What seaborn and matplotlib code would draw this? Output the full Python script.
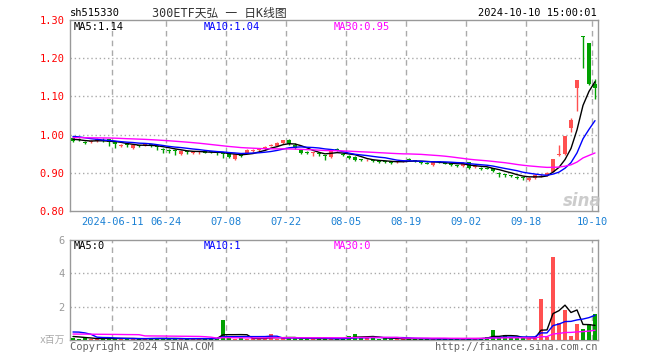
import numpy as np
import pandas as pd
import matplotlib
matplotlib.use('Agg')
import matplotlib.pyplot as plt
import seaborn as sns

# -----------------------------
# DATA
# -----------------------------

opens = [0.992, 0.989, 0.981, 0.980, 0.983, 0.984, 0.988, 0.980, 0.970, 0.975,
         0.965, 0.972, 0.973, 0.975, 0.969, 0.962, 0.958, 0.960, 0.948, 0.955,
         0.953, 0.954, 0.957, 0.956, 0.953, 0.952, 0.951, 0.936, 0.946, 0.953,
         0.959, 0.961, 0.962, 0.972, 0.971, 0.977, 0.986, 0.973, 0.960, 0.955,
         0.952, 0.950, 0.945, 0.942, 0.961, 0.948, 0.944, 0.942, 0.935, 0.933,
         0.932, 0.930, 0.930, 0.928, 0.928, 0.930, 0.936, 0.932, 0.927, 0.926,
         0.920, 0.930, 0.926, 0.926, 0.919, 0.918, 0.927, 0.915, 0.913, 0.913,
         0.912, 0.898, 0.895, 0.893, 0.889, 0.887, 0.881, 0.886, 0.891, 0.894,
         0.903, 0.948, 0.949, 1.018, 1.121, 1.258, 1.241, 1.133]

closes = [0.983, 0.986, 0.980, 0.982, 0.988, 0.983, 0.981, 0.976, 0.971, 0.972,
          0.973, 0.970, 0.974, 0.970, 0.967, 0.961, 0.957, 0.958, 0.958, 0.954,
          0.954, 0.955, 0.953, 0.954, 0.952, 0.951, 0.941, 0.948, 0.943, 0.960,
          0.960, 0.962, 0.968, 0.973, 0.979, 0.986, 0.975, 0.964, 0.951, 0.951,
          0.953, 0.949, 0.944, 0.958, 0.960, 0.947, 0.938, 0.934, 0.934, 0.934,
          0.931, 0.929, 0.929, 0.927, 0.929, 0.931, 0.935, 0.931, 0.926, 0.925,
          0.927, 0.929, 0.925, 0.920, 0.918, 0.926, 0.913, 0.916, 0.912, 0.912,
          0.905, 0.897, 0.894, 0.892, 0.888, 0.886, 0.887, 0.894, 0.892, 0.900,
          0.936, 0.949, 0.996, 1.038, 1.143, 1.256, 1.133, 1.122]

highs = [0.995, 0.991, 0.984, 0.985, 0.990, 0.990, 0.989, 0.981, 0.975, 0.976,
         0.975, 0.974, 0.977, 0.976, 0.971, 0.965, 0.961, 0.962, 0.959, 0.957,
         0.957, 0.958, 0.958, 0.957, 0.955, 0.954, 0.952, 0.950, 0.948, 0.961,
         0.963, 0.966, 0.969, 0.976, 0.980, 0.987, 0.989, 0.977, 0.961, 0.957,
         0.955, 0.952, 0.947, 0.960, 0.964, 0.952, 0.946, 0.943, 0.937, 0.937,
         0.934, 0.932, 0.932, 0.930, 0.932, 0.934, 0.939, 0.934, 0.929, 0.928,
         0.929, 0.932, 0.928, 0.927, 0.921, 0.928, 0.928, 0.919, 0.915, 0.915,
         0.913, 0.901, 0.898, 0.895, 0.892, 0.889, 0.889, 0.896, 0.896, 0.902,
         0.937, 0.973, 0.997, 1.044, 1.143, 1.258, 1.241, 1.146]

lows = [0.980, 0.982, 0.975, 0.977, 0.981, 0.980, 0.971, 0.966, 0.967, 0.968,
        0.963, 0.967, 0.970, 0.968, 0.960, 0.953, 0.953, 0.947, 0.946, 0.950,
        0.949, 0.950, 0.951, 0.951, 0.946, 0.938, 0.939, 0.934, 0.941, 0.951,
        0.955, 0.958, 0.960, 0.969, 0.969, 0.975, 0.974, 0.962, 0.950, 0.949,
        0.945, 0.944, 0.934, 0.940, 0.957, 0.943, 0.936, 0.930, 0.930, 0.930,
        0.928, 0.926, 0.926, 0.924, 0.925, 0.927, 0.932, 0.928, 0.923, 0.922,
        0.918, 0.926, 0.922, 0.918, 0.915, 0.916, 0.911, 0.912, 0.908, 0.909,
        0.903, 0.890, 0.890, 0.888, 0.885, 0.882, 0.878, 0.884, 0.888, 0.892,
        0.902, 0.945, 0.947, 1.008, 1.063, 1.175, 1.130, 1.093]

# volume, millions
vols = [0.10, 0.08, 0.12, 0.06, 0.08, 0.10, 0.14, 0.08, 0.06, 0.10,
        0.08, 0.06, 0.08, 0.10, 0.12, 0.10, 0.06, 0.08, 0.06, 0.08,
        0.10, 0.06, 0.08, 0.10, 0.12, 1.20, 0.10, 0.08, 0.12, 0.08,
        0.10, 0.06, 0.10, 0.36, 0.08, 0.10, 0.12, 0.10, 0.08, 0.10,
        0.06, 0.08, 0.10, 0.08, 0.06, 0.10, 0.24, 0.36, 0.15, 0.12,
        0.18, 0.08, 0.10, 0.06, 0.08, 0.06, 0.08, 0.10, 0.06, 0.08,
        0.06, 0.08, 0.06, 0.10, 0.08, 0.06, 0.10, 0.06, 0.12, 0.20,
        0.60, 0.10, 0.30, 0.12, 0.10, 0.12, 0.10, 0.15, 2.46, 0.20,
        5.00, 1.00, 1.80, 0.25, 0.96, 0.65, 0.96, 1.56]

# days before the window, only used to warm up the moving averages
prior_close = [0.985, 0.988, 0.990, 0.992, 0.989, 0.986, 0.988, 0.991, 0.993, 0.990,
               0.988, 0.992, 0.995, 0.993, 0.990, 0.989, 0.992, 0.994, 0.991, 0.994,
               0.998, 1.003, 1.006, 1.004, 1.002, 0.993, 0.990, 0.988, 0.985]
prior_vol = [0.20, 0.15, 0.25, 0.15, 0.20, 0.25, 0.15, 0.20, 0.25, 0.15,
             0.20, 2.30, 0.15, 0.20, 0.15, 0.25, 0.15, 0.20, 0.15, 0.25,
             0.15, 0.60, 0.90, 1.80, 0.30, 0.20, 0.30, 0.20, 0.25]

date_pos = [7, 16, 26, 36, 46, 56, 66, 76, 87]
date_labels = ['2024-06-11', '06-24', '07-08', '07-22', '08-05',
               '08-19', '09-02', '09-18', '10-10']
price_ticks = [0.80, 0.90, 1.00, 1.10, 1.20, 1.30]
vol_ticks = [2, 4, 6]

# -----------------------------
# PREP
# -----------------------------

opens = np.array(opens)
closes = np.array(closes)
highs = np.array(highs)
lows = np.array(lows)
vols = np.array(vols)
x = np.arange(len(closes))
n0 = len(prior_close)

all_close = pd.Series(prior_close + list(closes))
all_vol = pd.Series(prior_vol + list(vols))
ma = {w: all_close.rolling(w).mean().iloc[n0:].to_numpy() for w in (5, 10, 30)}
vma = {w: all_vol.rolling(w).mean().iloc[n0:].to_numpy() for w in (5, 10, 30)}

RED = '#ff5050'
GREEN = '#00a000'
GRID = '#aaaaaa'
SPINE = '#999999'
MA_COL = {5: 'black', 10: '#0000ff', 30: '#ff00ff'}
colors = np.where(closes >= opens, RED, GREEN)

# -----------------------------
# FIGURE
# -----------------------------

sns.set_style('white')
plt.rcParams['font.family'] = ['DejaVu Sans Mono', 'Noto Sans CJK SC']

W, H = 660, 360
fig = plt.figure(figsize=(6.6, 3.6), dpi=100)


def box(l, t, r, b):
    return [l / W, 1 - b / H, (r - l) / W, (b - t) / H]


ax = fig.add_axes(box(70, 20, 598, 211))
axv = fig.add_axes(box(70, 240, 598, 340))

# candles
ax.vlines(x, lows, highs, colors=colors, lw=1, zorder=3)
body = np.abs(closes - opens)
bh = np.maximum(body, 0.0026)
bb = np.minimum(opens, closes) - (bh - body) / 2
ax.bar(x, bh, bottom=bb, width=0.8, color=colors, linewidth=0, zorder=3)

for w in (5, 10, 30):
    sns.lineplot(x=x, y=ma[w], ax=ax, color=MA_COL[w], lw=1, zorder=4)

# volume
axv.bar(x, vols, width=0.8, color=colors, linewidth=0, zorder=3)
for w in (5, 10, 30):
    sns.lineplot(x=x, y=vma[w], ax=axv, color=MA_COL[w], lw=1, zorder=4)

# axes styling
for a in (ax, axv):
    a.set_xlim(-0.5, len(x) - 0.5)
    for gx in date_pos:
        a.axvline(gx - 0.5, color=GRID, ls=(0, (4, 3)), lw=1, zorder=1)
    for s in a.spines.values():
        s.set_color(SPINE)
        s.set_linewidth(1)
    a.set_xlabel('')
    a.set_ylabel('')

ax.set_ylim(0.80, 1.30)
for gy in price_ticks[1:-1]:
    ax.axhline(gy, color=GRID, ls=(0, (1, 2)), lw=1, zorder=1)
ax.set_yticks(price_ticks)
ax.set_yticklabels(['%.2f' % t for t in price_ticks])
ax.tick_params(axis='y', length=0, pad=4, labelcolor='#ff0000', labelsize=7.5)
ax.set_xticks([p - 0.5 for p in date_pos])
ax.set_xticklabels(date_labels)
ax.tick_params(axis='x', length=0, pad=4, labelcolor='#1a80d4', labelsize=7.5)

axv.set_ylim(0, 6)
for gy in vol_ticks[:-1]:
    axv.axhline(gy, color=GRID, ls=(0, (1, 2)), lw=1, zorder=1)
axv.set_yticks(vol_ticks)
axv.set_yticklabels([str(t) for t in vol_ticks])
axv.tick_params(axis='y', length=0, pad=4, labelcolor='#999999', labelsize=7.5)
axv.set_xticks([])

# -----------------------------
# TEXTS
# -----------------------------


def ftext(px, py, s, **kw):
    fig.text(px / W, 1 - py / H, s, va='center', **kw)


ftext(70, 13, 'sh515330', fontsize=7.5, color='black')
ftext(219, 13, '300ETF天弘 一 日K线图', fontsize=8.5, color='#333333', ha='center')
ftext(597, 13, '2024-10-10 15:00:01', fontsize=7.5, color='black', ha='right')

ftext(74, 27, 'MA5:%.2f' % ma[5][-1], fontsize=7.5, color=MA_COL[5])
ftext(204, 27, 'MA10:%.2f' % ma[10][-1], fontsize=7.5, color=MA_COL[10])
ftext(334, 27, 'MA30:%.2f' % ma[30][-1], fontsize=7.5, color=MA_COL[30])

ftext(74, 246, 'MA5:%d' % int(vma[5][-1]), fontsize=7.5, color=MA_COL[5])
ftext(204, 246, 'MA10:%d' % int(vma[10][-1]), fontsize=7.5, color=MA_COL[10])
ftext(334, 246, 'MA30:%d' % int(vma[30][-1]), fontsize=7.5, color=MA_COL[30])

ftext(65, 340, 'x百万', fontsize=7, color='#aaaaaa', ha='right')
ftext(70, 347, 'Copyright 2024 SINA.COM', fontsize=7.5, color='#666666')
ftext(597, 347, 'http://finance.sina.com.cn', fontsize=7.5, color='#666666', ha='right')

ftext(582, 201, 'sina', fontsize=12, color='#c0c0c0', ha='center',
      fontweight='bold', style='italic', family='DejaVu Sans', alpha=0.8)

fig.savefig('out.png', dpi=100)
